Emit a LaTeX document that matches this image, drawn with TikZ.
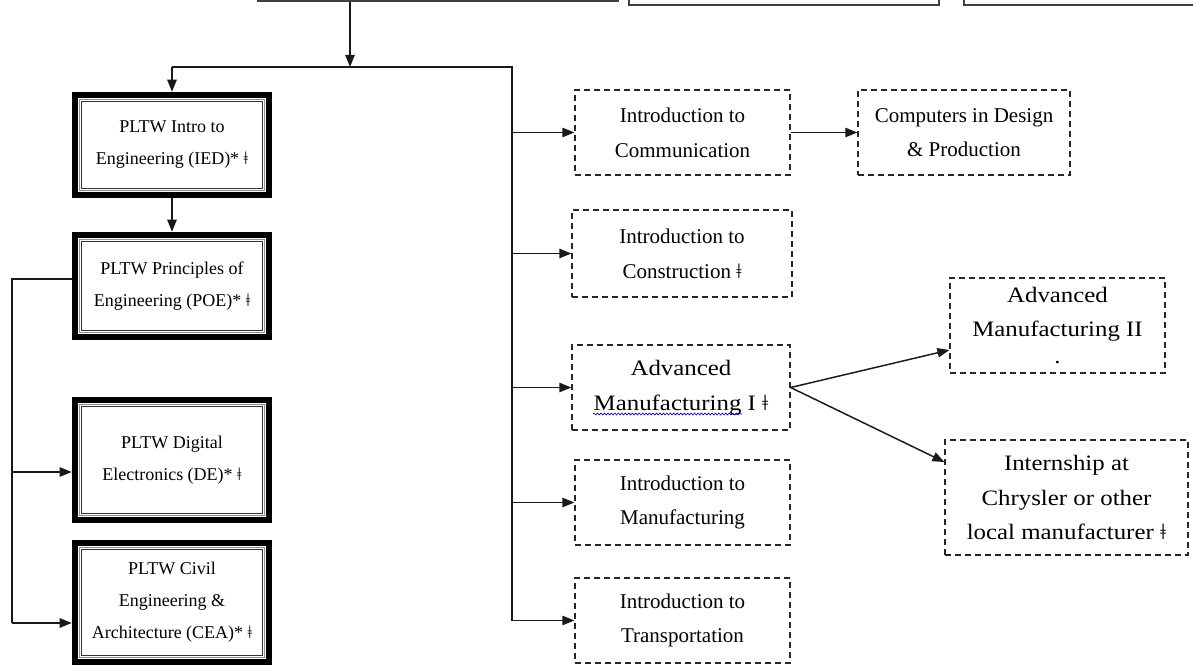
\documentclass[tikz,border=0pt]{standalone}
\usepackage{fontspec}
\setmainfont{Liberation Serif}
\newfontfamily\widefont[FakeStretch=1.13]{Liberation Serif}
\usetikzlibrary{arrows.meta,decorations.pathmorphing}
\newcommand{\dg}{ǂ}
\tikzset{
  sz/.style 2 args={minimum width=#1*0.75pt, minimum height=#2*0.75pt},
  pltw/.style={inner sep=0pt, align=center, font={\fontsize{13.5}{24}\selectfont}},
  dbox/.style={draw=black!85, dash pattern=on 4.5pt off 3pt, line width=0.9pt, inner sep=0pt, align=center, font={\fontsize{15.75}{26}\selectfont}},
  wbox/.style={dbox, font={\widefont\fontsize{16.5}{26}\selectfont}},
  topbox/.style={draw=black!75, line width=1.1pt, inner sep=0pt},
  conn/.style={draw=black!90, line width=1.1pt},
  arr/.style={conn, -{Triangle[length=9pt,width=7pt]}},
  spell/.style={draw=blue!70!black, line width=0.5pt, decorate, decoration={snake, amplitude=0.7pt, segment length=2.6pt}}
}
\begin{document}
\begin{tikzpicture}[x=0.75pt, y=-0.75pt]
\useasboundingbox (0,0) rectangle (1193,666);
% top boxes (cut off)
\node[topbox, sz={360}{60}] (top1) at (438,-29) {};
\node[topbox, sz={310}{60}] (top2) at (784,-25) {};
\node[topbox, sz={300}{60}] (top3) at (1114,-25) {};
% PLTW boxes
\node[pltw, sz={200}{106}] (ied) at (172,145) {PLTW Intro to\\Engineering (IED)* \dg};
\node[pltw, sz={200}{108}] (poe) at (172,286) {PLTW Principles of\\Engineering (POE)* \dg};
\node[pltw, sz={200}{126}] (de) at (172,460) {PLTW Digital\\Electronics (DE)* \dg};
\node[pltw, sz={200}{125}] (cea) at (172,602.5) {PLTW Civil\\Engineering \&\\Architecture (CEA)* \dg};
\foreach \n in {ied,poe,de,cea}{
  \draw[line width=4.5pt] ([shift={(3,3)}]\n.north west) rectangle ([shift={(-3,-3)}]\n.south east);
  \draw[black!45, line width=1.1pt] ([shift={(8,8)}]\n.north west) rectangle ([shift={(-8,-8)}]\n.south east);
  \draw[black!80, line width=0.6pt] ([shift={(10,10)}]\n.north west) rectangle ([shift={(-10,-10)}]\n.south east);
}
% dashed boxes
\node[dbox, sz={215}{85}] (comm) at (682.5,132.5) {Introduction to\\Communication};
\node[dbox, sz={212}{85}] (comp) at (964,132.5) {Computers in Design\\\& Production};
\node[dbox, sz={220}{87}] (cons) at (682,253.5) {Introduction to\\Construction \dg};
\node[wbox, sz={218}{85}] (am1) at (681,387.5) {Advanced\\Manufacturing I \dg};
\node[dbox, sz={215}{85}] (imfg) at (682.5,502.5) {Introduction to\\Manufacturing};
\node[dbox, sz={215}{85}] (trans) at (682.5,620.5) {Introduction to\\Transportation};
\node[wbox, sz={215}{95}] (am2) at (1057.5,325.5) {Advanced\\Manufacturing II\\[-6pt].};
\node[wbox, sz={243}{115}] (intern) at (1066.5,497.5) {Internship at\\Chrysler or other\\local manufacturer \dg};
% spell-check underline
\draw[spell] (593,414) -- (742,414);
% connectors
\coordinate (j) at (350,67);
\coordinate (hl) at (172,67);
\coordinate (hr) at (512,67);
\coordinate (lx) at (12,279);
\coordinate (dy) at (12,472);
\coordinate (cy) at (12,623);
\coordinate (a2) at (0,350);
\coordinate (a3) at (0,462);
\draw[arr] (j |- top1.south) -- (j);
\draw[conn] (hl) -- (hr) -- (hr |- trans.west);
\draw[arr] (hl) -- (ied.north);
\draw[arr] (ied.south) -- (poe.north);
\draw[conn] (poe.west |- lx) -- (lx) -- (cy);
\draw[arr] (dy) -- (de.west |- dy);
\draw[arr] (cy) -- (cea.west |- cy);
\draw[arr] (hr |- comm.west) -- (comm.west);
\draw[arr] (comm.east) -- (comp.west);
\draw[arr] (hr |- cons.west) -- (cons.west);
\draw[arr] (hr |- am1.west) -- (am1.west);
\draw[arr] (hr |- imfg.west) -- (imfg.west);
\draw[arr] (hr |- trans.west) -- (trans.west);
\draw[arr] (am1.east) -- (am2.west |- a2);
\draw[arr] (am1.east) -- (intern.west |- a3);
\end{tikzpicture}
\end{document}
